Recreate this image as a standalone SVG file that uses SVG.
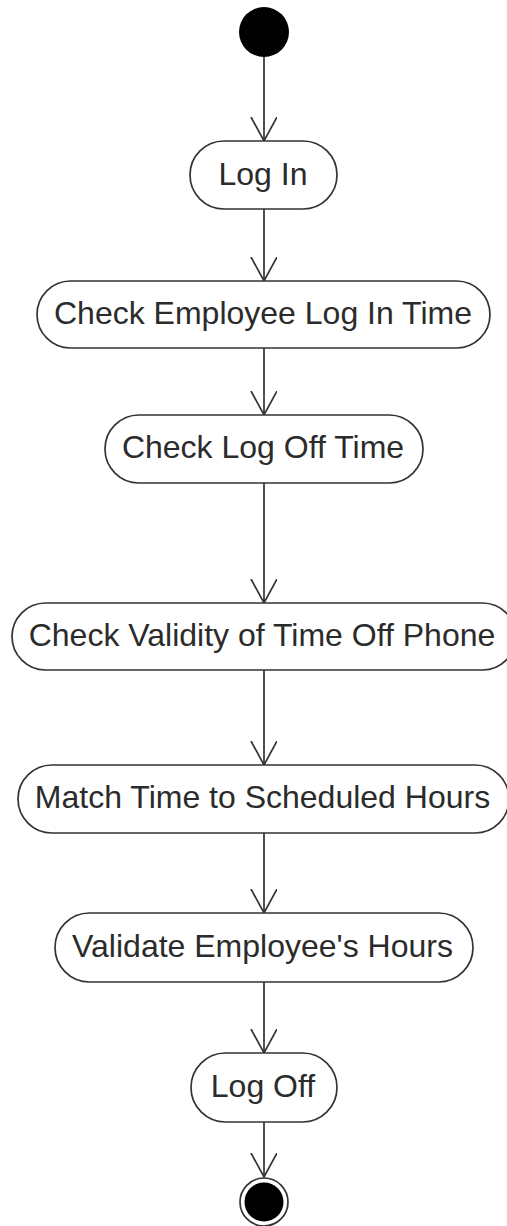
<svg xmlns="http://www.w3.org/2000/svg" width="507" height="1226" viewBox="0 0 507 1226">
<style>
.act{fill:#fff;stroke:#333;stroke-width:1.7}
.lbl{font-family:"Liberation Sans",Arial,sans-serif;font-size:32px;fill:#2b2b2b;text-anchor:middle}
.edge{stroke:#333;stroke-width:1.7;fill:none}
</style>
<defs>
<marker id="arr" markerWidth="30" markerHeight="30" refX="24" refY="13" orient="auto" markerUnits="userSpaceOnUse">
<path d="M0,0 L24,13 L0,26" fill="none" stroke="#333" stroke-width="1.7"/>
</marker>
</defs>
<rect width="507" height="1226" fill="#fff"/>
<g id="connectors">
<line class="edge" x1="264" y1="57" x2="264" y2="141" marker-end="url(#arr)"/>
<line class="edge" x1="264" y1="209" x2="264" y2="281" marker-end="url(#arr)"/>
<line class="edge" x1="264" y1="348" x2="264" y2="415" marker-end="url(#arr)"/>
<line class="edge" x1="264" y1="483" x2="264" y2="603" marker-end="url(#arr)"/>
<line class="edge" x1="264" y1="670" x2="264" y2="765" marker-end="url(#arr)"/>
<line class="edge" x1="264" y1="833" x2="264" y2="913" marker-end="url(#arr)"/>
<line class="edge" x1="264" y1="982" x2="264" y2="1053" marker-end="url(#arr)"/>
<line class="edge" x1="264" y1="1122" x2="264" y2="1177" marker-end="url(#arr)"/>
</g>
<g id="start"><circle cx="264" cy="32" r="25" fill="#000"/></g>
<g id="login"><rect class="act" x="190" y="141" width="147" height="68" rx="34"/><text class="lbl" x="263" y="185">Log In</text></g>
<g id="checkEmp"><rect class="act" x="37" y="281" width="453" height="67" rx="33.5"/><text class="lbl" x="263" y="324">Check Employee Log In Time</text></g>
<g id="checkLogOff"><rect class="act" x="105" y="415" width="318" height="68" rx="34"/><text class="lbl" x="263" y="458">Check Log Off Time</text></g>
<g id="checkValidity"><rect class="act" x="12" y="603" width="504" height="67" rx="33.5"/><text class="lbl" x="262" y="646">Check Validity of Time Off Phone</text></g>
<g id="match"><rect class="act" x="18" y="765" width="491" height="68" rx="34"/><text class="lbl" x="262.5" y="808">Match Time to Scheduled Hours</text></g>
<g id="validate"><rect class="act" x="55" y="913" width="418" height="69" rx="34.5"/><text class="lbl" x="262.5" y="957">Validate Employee's Hours</text></g>
<g id="logoff"><rect class="act" x="191" y="1053" width="146" height="69" rx="34.5"/><text class="lbl" x="263" y="1097">Log Off</text></g>
<g id="end"><circle cx="264" cy="1202" r="24" fill="#fff" stroke="#333" stroke-width="1.7"/><circle cx="264" cy="1202" r="19.5" fill="#000"/></g>
</svg>
